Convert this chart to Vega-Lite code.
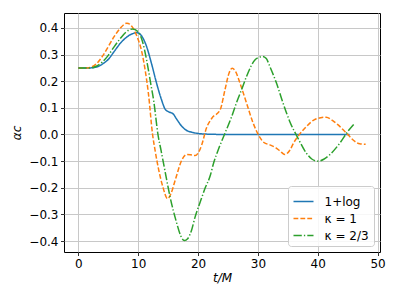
{
  "$schema": "https://vega.github.io/schema/vega-lite/v6.json",
  "width": 316,
  "height": 239,
  "autosize": {"type": "none"},
  "padding": {"left": 64, "top": 13, "right": 19, "bottom": 47},
  "background": "white",
  "config": {
    "font": "DejaVu Sans",
    "view": {"stroke": "#000000", "strokeWidth": 1},
    "axis": {
      "domain": false,
      "grid": true,
      "gridColor": "#c8c8c8",
      "gridWidth": 1,
      "tickColor": "#000000",
      "tickSize": 3.5,
      "tickWidth": 0.8,
      "labelColor": "#000000",
      "labelFontSize": 12,
      "labelFont": "DejaVu Sans",
      "titleFont": "DejaVu Sans",
      "titleFontSize": 12,
      "titleFontWeight": "normal",
      "titleColor": "#000000",
      "labelPadding": 2.5
    },
    "legend": {
      "orient": "bottom-right",
      "offset": 6,
      "title": null,
      "symbolType": "stroke",
      "symbolSize": 400,
      "symbolStrokeWidth": 1.5,
      "labelFontSize": 12,
      "labelColor": "#000000",
      "labelFont": "DejaVu Sans",
      "labelOffset": 10,
      "padding": 4.5,
      "rowPadding": -6.5,
      "fillColor": "rgba(255,255,255,0.85)",
      "strokeColor": "#cccccc",
      "cornerRadius": 3
    }
  },
  "data": {
    "values": [
      {"s": "1+log", "t": 0, "v": 0.25},
      {"s": "1+log", "t": 2, "v": 0.25},
      {"s": "1+log", "t": 3, "v": 0.253},
      {"s": "1+log", "t": 4, "v": 0.264},
      {"s": "1+log", "t": 5, "v": 0.282},
      {"s": "1+log", "t": 6, "v": 0.312},
      {"s": "1+log", "t": 7, "v": 0.342},
      {"s": "1+log", "t": 8, "v": 0.364},
      {"s": "1+log", "t": 9, "v": 0.378},
      {"s": "1+log", "t": 9.8, "v": 0.382},
      {"s": "1+log", "t": 10.5, "v": 0.372},
      {"s": "1+log", "t": 11.4, "v": 0.33},
      {"s": "1+log", "t": 12.2, "v": 0.268},
      {"s": "1+log", "t": 13.1, "v": 0.19},
      {"s": "1+log", "t": 13.9, "v": 0.13},
      {"s": "1+log", "t": 14.5, "v": 0.095},
      {"s": "1+log", "t": 15.1, "v": 0.085},
      {"s": "1+log", "t": 15.8, "v": 0.078},
      {"s": "1+log", "t": 16.5, "v": 0.055},
      {"s": "1+log", "t": 17.2, "v": 0.033},
      {"s": "1+log", "t": 17.9, "v": 0.018},
      {"s": "1+log", "t": 19, "v": 0.008},
      {"s": "1+log", "t": 20, "v": 0.004},
      {"s": "1+log", "t": 22, "v": 0.001},
      {"s": "1+log", "t": 25, "v": 0},
      {"s": "1+log", "t": 30, "v": 0},
      {"s": "1+log", "t": 35, "v": 0},
      {"s": "1+log", "t": 40, "v": 0},
      {"s": "1+log", "t": 45.3, "v": 0},
      {"s": "κ = 1", "t": 0, "v": 0.25},
      {"s": "κ = 1", "t": 1.5, "v": 0.25},
      {"s": "κ = 1", "t": 2, "v": 0.252},
      {"s": "κ = 1", "t": 3, "v": 0.265},
      {"s": "κ = 1", "t": 4, "v": 0.293},
      {"s": "κ = 1", "t": 5, "v": 0.33},
      {"s": "κ = 1", "t": 6, "v": 0.368},
      {"s": "κ = 1", "t": 7, "v": 0.399},
      {"s": "κ = 1", "t": 8.1, "v": 0.418},
      {"s": "κ = 1", "t": 9, "v": 0.404},
      {"s": "κ = 1", "t": 9.8, "v": 0.368},
      {"s": "κ = 1", "t": 10.6, "v": 0.31},
      {"s": "κ = 1", "t": 11.1, "v": 0.25},
      {"s": "κ = 1", "t": 11.7, "v": 0.155},
      {"s": "κ = 1", "t": 12.4, "v": 0.0},
      {"s": "κ = 1", "t": 12.8, "v": -0.057},
      {"s": "κ = 1", "t": 14.1, "v": -0.195},
      {"s": "κ = 1", "t": 14.9, "v": -0.241},
      {"s": "κ = 1", "t": 15.5, "v": -0.22},
      {"s": "κ = 1", "t": 16.2, "v": -0.17},
      {"s": "κ = 1", "t": 17.3, "v": -0.095},
      {"s": "κ = 1", "t": 18.1, "v": -0.075},
      {"s": "κ = 1", "t": 18.7, "v": -0.076},
      {"s": "κ = 1", "t": 19.5, "v": -0.079},
      {"s": "κ = 1", "t": 20.05, "v": -0.068},
      {"s": "κ = 1", "t": 20.6, "v": -0.04},
      {"s": "κ = 1", "t": 21.4, "v": 0.024},
      {"s": "κ = 1", "t": 22.3, "v": 0.061},
      {"s": "κ = 1", "t": 23.7, "v": 0.093},
      {"s": "κ = 1", "t": 24.5, "v": 0.168},
      {"s": "κ = 1", "t": 25.2, "v": 0.232},
      {"s": "κ = 1", "t": 25.7, "v": 0.249},
      {"s": "κ = 1", "t": 26.3, "v": 0.235},
      {"s": "κ = 1", "t": 27, "v": 0.193},
      {"s": "κ = 1", "t": 28.1, "v": 0.118},
      {"s": "κ = 1", "t": 29.2, "v": 0.043},
      {"s": "κ = 1", "t": 30.3, "v": -0.01},
      {"s": "κ = 1", "t": 31, "v": -0.03},
      {"s": "κ = 1", "t": 32, "v": -0.039},
      {"s": "κ = 1", "t": 33, "v": -0.05},
      {"s": "κ = 1", "t": 33.7, "v": -0.062},
      {"s": "κ = 1", "t": 34.5, "v": -0.075},
      {"s": "κ = 1", "t": 35.3, "v": -0.06},
      {"s": "κ = 1", "t": 36, "v": -0.03},
      {"s": "κ = 1", "t": 36.7, "v": -0.007},
      {"s": "κ = 1", "t": 38.1, "v": 0.03},
      {"s": "κ = 1", "t": 39.4, "v": 0.055},
      {"s": "κ = 1", "t": 40.5, "v": 0.063},
      {"s": "κ = 1", "t": 41.4, "v": 0.065},
      {"s": "κ = 1", "t": 42.5, "v": 0.052},
      {"s": "κ = 1", "t": 43.4, "v": 0.036},
      {"s": "κ = 1", "t": 44.8, "v": 0.005},
      {"s": "κ = 1", "t": 46.2, "v": -0.026},
      {"s": "κ = 1", "t": 47, "v": -0.035},
      {"s": "κ = 1", "t": 48, "v": -0.037},
      {"s": "κ = 2/3", "t": 0, "v": 0.25},
      {"s": "κ = 2/3", "t": 2, "v": 0.25},
      {"s": "κ = 2/3", "t": 3, "v": 0.256},
      {"s": "κ = 2/3", "t": 4, "v": 0.272},
      {"s": "κ = 2/3", "t": 5, "v": 0.297},
      {"s": "κ = 2/3", "t": 6, "v": 0.33},
      {"s": "κ = 2/3", "t": 7, "v": 0.36},
      {"s": "κ = 2/3", "t": 8, "v": 0.385},
      {"s": "κ = 2/3", "t": 9.05, "v": 0.396},
      {"s": "κ = 2/3", "t": 10, "v": 0.385},
      {"s": "κ = 2/3", "t": 10.7, "v": 0.35},
      {"s": "κ = 2/3", "t": 11.4, "v": 0.28},
      {"s": "κ = 2/3", "t": 12.1, "v": 0.19},
      {"s": "κ = 2/3", "t": 12.6, "v": 0.125},
      {"s": "κ = 2/3", "t": 13.3, "v": 0.0},
      {"s": "κ = 2/3", "t": 13.8, "v": -0.058},
      {"s": "κ = 2/3", "t": 14.5, "v": -0.14},
      {"s": "κ = 2/3", "t": 15.3, "v": -0.232},
      {"s": "κ = 2/3", "t": 16.4, "v": -0.33},
      {"s": "κ = 2/3", "t": 17.1, "v": -0.38},
      {"s": "κ = 2/3", "t": 17.7, "v": -0.398},
      {"s": "κ = 2/3", "t": 18.3, "v": -0.39},
      {"s": "κ = 2/3", "t": 18.9, "v": -0.36},
      {"s": "κ = 2/3", "t": 19.5, "v": -0.31},
      {"s": "κ = 2/3", "t": 20.3, "v": -0.257},
      {"s": "κ = 2/3", "t": 21.2, "v": -0.2},
      {"s": "κ = 2/3", "t": 22, "v": -0.157},
      {"s": "κ = 2/3", "t": 22.6, "v": -0.107},
      {"s": "κ = 2/3", "t": 23.5, "v": -0.05},
      {"s": "κ = 2/3", "t": 24.5, "v": 0.005},
      {"s": "κ = 2/3", "t": 25.5, "v": 0.06},
      {"s": "κ = 2/3", "t": 26.4, "v": 0.118},
      {"s": "κ = 2/3", "t": 27.3, "v": 0.17},
      {"s": "κ = 2/3", "t": 28.1, "v": 0.218},
      {"s": "κ = 2/3", "t": 29.5, "v": 0.28},
      {"s": "κ = 2/3", "t": 30.2, "v": 0.29},
      {"s": "κ = 2/3", "t": 30.8, "v": 0.293},
      {"s": "κ = 2/3", "t": 31.4, "v": 0.285},
      {"s": "κ = 2/3", "t": 32, "v": 0.255},
      {"s": "κ = 2/3", "t": 33.1, "v": 0.193},
      {"s": "κ = 2/3", "t": 34.2, "v": 0.118},
      {"s": "κ = 2/3", "t": 35.3, "v": 0.05},
      {"s": "κ = 2/3", "t": 36.7, "v": -0.014},
      {"s": "κ = 2/3", "t": 38.1, "v": -0.07},
      {"s": "κ = 2/3", "t": 39, "v": -0.092},
      {"s": "κ = 2/3", "t": 40, "v": -0.1},
      {"s": "κ = 2/3", "t": 41, "v": -0.093},
      {"s": "κ = 2/3", "t": 42, "v": -0.076},
      {"s": "κ = 2/3", "t": 43.7, "v": -0.032},
      {"s": "κ = 2/3", "t": 45, "v": 0.011},
      {"s": "κ = 2/3", "t": 46.2, "v": 0.043}
    ]
  },
  "mark": {"type": "line", "interpolate": "monotone", "strokeWidth": 1.5},
  "encoding": {
    "x": {
      "field": "t",
      "type": "quantitative",
      "scale": {"domain": [-2.4, 50.4], "nice": false, "zero": false},
      "axis": {"title": "t/M", "titleFontStyle": "italic", "values": [0, 10, 20, 30, 40, 50], "format": "d", "titlePadding": 3}
    },
    "y": {
      "field": "v",
      "type": "quantitative",
      "scale": {"domain": [-0.441, 0.456], "nice": false, "zero": false},
      "axis": {"title": "αc", "titleFontStyle": "italic", "values": [-0.4, -0.3, -0.2, -0.1, 0, 0.1, 0.2, 0.3, 0.4], "format": ".1f", "titlePadding": 5}
    },
    "color": {
      "field": "s",
      "type": "nominal",
      "sort": ["1+log", "κ = 1", "κ = 2/3"],
      "scale": {"domain": ["1+log", "κ = 1", "κ = 2/3"], "range": ["#1f77b4", "#ff7f0e", "#2ca02c"]}
    },
    "strokeDash": {
      "field": "s",
      "type": "nominal",
      "sort": ["1+log", "κ = 1", "κ = 2/3"],
      "scale": {"domain": ["1+log", "κ = 1", "κ = 2/3"], "range": [[1, 0], [4.8, 2.1], [8.3, 2.1, 1.3, 2.1]]}
    }
  }
}
